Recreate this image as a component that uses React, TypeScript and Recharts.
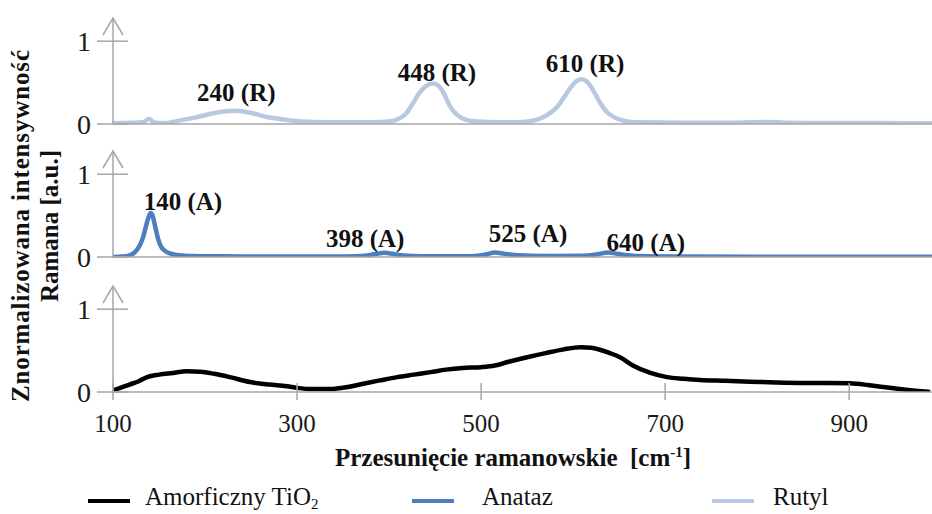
import { LineChart, Line, XAxis, YAxis, ReferenceDot } from "recharts"

const FONT = '"Liberation Serif", "Times New Roman", serif'
const AXIS = "#a6a6a6"

const X_MIN = 100
const X_MAX = 990
const Y_MAX = 1.28
const xTicks = [100, 300, 500, 700, 900]
const yTicks = [0, 1]

// Rutyl
const rutylShift = [100, 120, 132, 139, 145, 155, 176, 190, 205, 220, 232, 240, 255, 267, 282, 296, 320, 350, 380, 400, 410, 418, 426, 434, 442, 448, 454, 460, 466, 474, 484, 496, 520, 545, 560, 572, 582, 590, 598, 604, 609, 614, 620, 628, 636, 645, 655, 670, 720, 760, 790, 811, 830, 870, 920, 960, 990]
const rutylValues = [0.01, 0.015, 0.02, 0.06, 0.02, 0.01, 0.05, 0.08, 0.12, 0.15, 0.16, 0.155, 0.12, 0.085, 0.06, 0.04, 0.025, 0.02, 0.02, 0.03, 0.06, 0.12, 0.25, 0.39, 0.47, 0.49, 0.46, 0.36, 0.22, 0.11, 0.05, 0.03, 0.02, 0.025, 0.05, 0.11, 0.2, 0.32, 0.45, 0.52, 0.54, 0.52, 0.44, 0.28, 0.15, 0.08, 0.04, 0.02, 0.015, 0.015, 0.02, 0.025, 0.015, 0.012, 0.012, 0.01, 0.01]

// Anataz
const anatazShift = [100, 110, 118, 124, 129, 133, 136, 139, 141, 143, 146, 149, 152, 157, 163, 172, 185, 220, 280, 340, 370, 385, 395, 405, 420, 450, 490, 505, 515, 525, 540, 570, 610, 625, 638, 650, 670, 720, 800, 900, 990]
const anatazValues = [0, 0.005, 0.02, 0.06, 0.14, 0.25, 0.38, 0.49, 0.53, 0.5, 0.36, 0.22, 0.13, 0.07, 0.04, 0.02, 0.012, 0.008, 0.005, 0.005, 0.012, 0.035, 0.05, 0.035, 0.015, 0.008, 0.01, 0.03, 0.055, 0.04, 0.02, 0.012, 0.015, 0.03, 0.055, 0.035, 0.012, 0.005, 0.003, 0.003, 0.003]

// Amorficzny TiO2
const amorfShift = [100, 108, 118, 128, 137, 150, 165, 180, 195, 210, 227, 249, 270, 289, 300, 317, 336, 355, 372, 390, 409, 427, 445, 462, 480, 500, 515, 530, 550, 570, 590, 608, 620, 629, 640, 651, 665, 684, 702, 720, 738, 765, 792, 820, 847, 875, 901, 920, 937, 955, 972, 988]
const amorfValues = [0.02, 0.05, 0.09, 0.13, 0.18, 0.21, 0.23, 0.25, 0.245, 0.22, 0.18, 0.12, 0.09, 0.07, 0.05, 0.035, 0.035, 0.06, 0.1, 0.14, 0.18, 0.21, 0.24, 0.27, 0.29, 0.3, 0.32, 0.365, 0.42, 0.47, 0.515, 0.54, 0.535, 0.51, 0.47, 0.42, 0.32, 0.23, 0.18, 0.16, 0.145, 0.135, 0.125, 0.115, 0.11, 0.11, 0.105, 0.085, 0.06, 0.035, 0.015, 0]

const rutylPeaks = ["240 (R)", "448 (R)", "610 (R)"]
const rutylPeakAt = [[234, 0.39], [452, 0.63], [613, 0.74]]
const anatazPeaks = ["140 (A)", "398 (A)", "525 (A)", "640 (A)"]
const anatazPeakAt = [[176, 0.68], [374, 0.23], [551, 0.29], [679, 0.18]]

const toRows = (xs: number[], ys: number[]) => xs.map((x, i) => ({ x, y: ys[i] }))

const Arrow = (p: any) => (
  <path
    d={`M${p.cx - 10},${p.cy + 17} L${p.cx},${p.cy} L${p.cx + 10},${p.cy + 17}`}
    fill="none"
    stroke={AXIS}
    strokeWidth={1.5}
  />
)

const YTick = (p: any) => (
  <g>
    <line x1={p.x - 16} x2={p.x + 15} y1={p.y} y2={p.y} stroke={AXIS} strokeWidth={1.5} />
    <text x={p.x - 22} y={p.y + 10} textAnchor="end" fontSize={28} fill="#1a1a1a" fontFamily={FONT}>
      {p.payload.value}
    </text>
  </g>
)

const XTick = (p: any) => (
  <g>
    <line x1={p.x} x2={p.x} y1={p.y - 9} y2={p.y + 8} stroke={AXIS} strokeWidth={1.5} />
    <text x={p.x} y={p.y + 40} textAnchor="middle" fontSize={25} fill="#1a1a1a" fontFamily={FONT}>
      {p.payload.value}
    </text>
  </g>
)

type PanelProps = {
  rows: { x: number; y: number }[]
  color: string
  top: number
  height: number
  marginTop: number
  axisHeight: number
  bottom?: boolean
  names?: string[]
  at?: number[][]
}

function Panel({ rows, color, top, height, marginTop, axisHeight, bottom, names = [], at = [] }: PanelProps) {
  return (
    <div style={{ position: "absolute", left: 0, top }}>
      <LineChart width={932} height={height} data={rows} margin={{ top: marginTop, right: 0, bottom: 0, left: 0 }}>
        <XAxis
          dataKey="x"
          type="number"
          domain={[X_MIN, X_MAX]}
          ticks={xTicks}
          interval={0}
          allowDataOverflow
          height={axisHeight}
          axisLine={{ stroke: AXIS, strokeWidth: 1.5 }}
          tickLine={false}
          tickSize={0}
          tickMargin={0}
          tick={bottom ? (p: any) => <XTick {...p} /> : false}
        />
        <YAxis
          type="number"
          domain={[0, Y_MAX]}
          ticks={yTicks}
          interval={0}
          allowDataOverflow
          width={113}
          axisLine={{ stroke: AXIS, strokeWidth: 1.5 }}
          tickLine={false}
          tickSize={0}
          tickMargin={0}
          tick={(p: any) => <YTick {...p} />}
        />
        <ReferenceDot x={X_MIN} y={Y_MAX} r={0} ifOverflow="visible" shape={Arrow} />
        <Line
          type="monotone"
          dataKey="y"
          stroke={color}
          strokeWidth={4.5}
          dot={false}
          isAnimationActive={false}
        />
        {names.map((name, i) => (
          <ReferenceDot
            key={name}
            x={at[i][0]}
            y={at[i][1]}
            r={0}
            ifOverflow="visible"
            shape={(p: any) => (
              <text x={p.cx} y={p.cy + 9} textAnchor="middle" fontSize={25} fontWeight="bold" fill="#111" fontFamily={FONT}>
                {name}
              </text>
            )}
          />
        ))}
      </LineChart>
    </div>
  )
}

const legendItems = [
  { name: "Amorficzny TiO", sub: "2", color: "#000000", line: 88, text: 145 },
  { name: "Anataz", sub: "", color: "#4f7ebf", line: 412, text: 482 },
  { name: "Rutyl", sub: "", color: "#b9c8e1", line: 712, text: 773 },
]

export default function App() {
  return (
    <div style={{ position: "absolute", left: 0, top: 0, width: 932, height: 514, background: "#fff", fontFamily: FONT, overflow: "hidden" }}>
      <Panel rows={toRows(rutylShift, rutylValues)} color="#b9c8e1" top={0} height={146} marginTop={18} axisHeight={22} names={rutylPeaks} at={rutylPeakAt} />
      <Panel rows={toRows(anatazShift, anatazValues)} color="#4f7ebf" top={130} height={149} marginTop={21} axisHeight={22} names={anatazPeaks} at={anatazPeakAt} />
      <Panel rows={toRows(amorfShift, amorfValues)} color="#000000" top={263} height={177} marginTop={23} axisHeight={48} bottom />

      <svg width={70} height={440} style={{ position: "absolute", left: 0, top: 0 }}>
        <text
          transform="translate(29,226) rotate(-90)"
          textAnchor="middle"
          fontSize={25}
          fontWeight="bold"
          fill="#111"
          fontFamily={FONT}
          textLength={352}
          lengthAdjust="spacing"
        >
          Znormalizowana intensywność
        </text>
        <text transform="translate(58,226) rotate(-90)" textAnchor="middle" fontSize={25} fontWeight="bold" fill="#111" fontFamily={FONT}>
          Ramana [a.u.]
        </text>
      </svg>

      <div
        style={{
          position: "absolute",
          left: 0,
          width: 1026,
          top: 443,
          textAlign: "center",
          fontSize: 25,
          fontWeight: "bold",
          color: "#111",
          lineHeight: "30px",
          whiteSpace: "pre",
        }}
      >
        {"Przesunięcie ramanowskie  [cm"}
        <sup style={{ fontSize: 15, verticalAlign: "9px", lineHeight: 0 }}>-1</sup>]
      </div>

      {legendItems.map((it) => (
        <div key={it.name}>
          <div style={{ position: "absolute", left: it.line, top: 499, width: 42, height: 4, background: it.color }} />
          <div style={{ position: "absolute", left: it.text, top: 483, fontSize: 25, color: "#111", lineHeight: "28px", whiteSpace: "nowrap" }}>
            {it.name}
            {it.sub && <sub style={{ fontSize: 15, verticalAlign: "-4px", lineHeight: 0 }}>{it.sub}</sub>}
          </div>
        </div>
      ))}
    </div>
  )
}
